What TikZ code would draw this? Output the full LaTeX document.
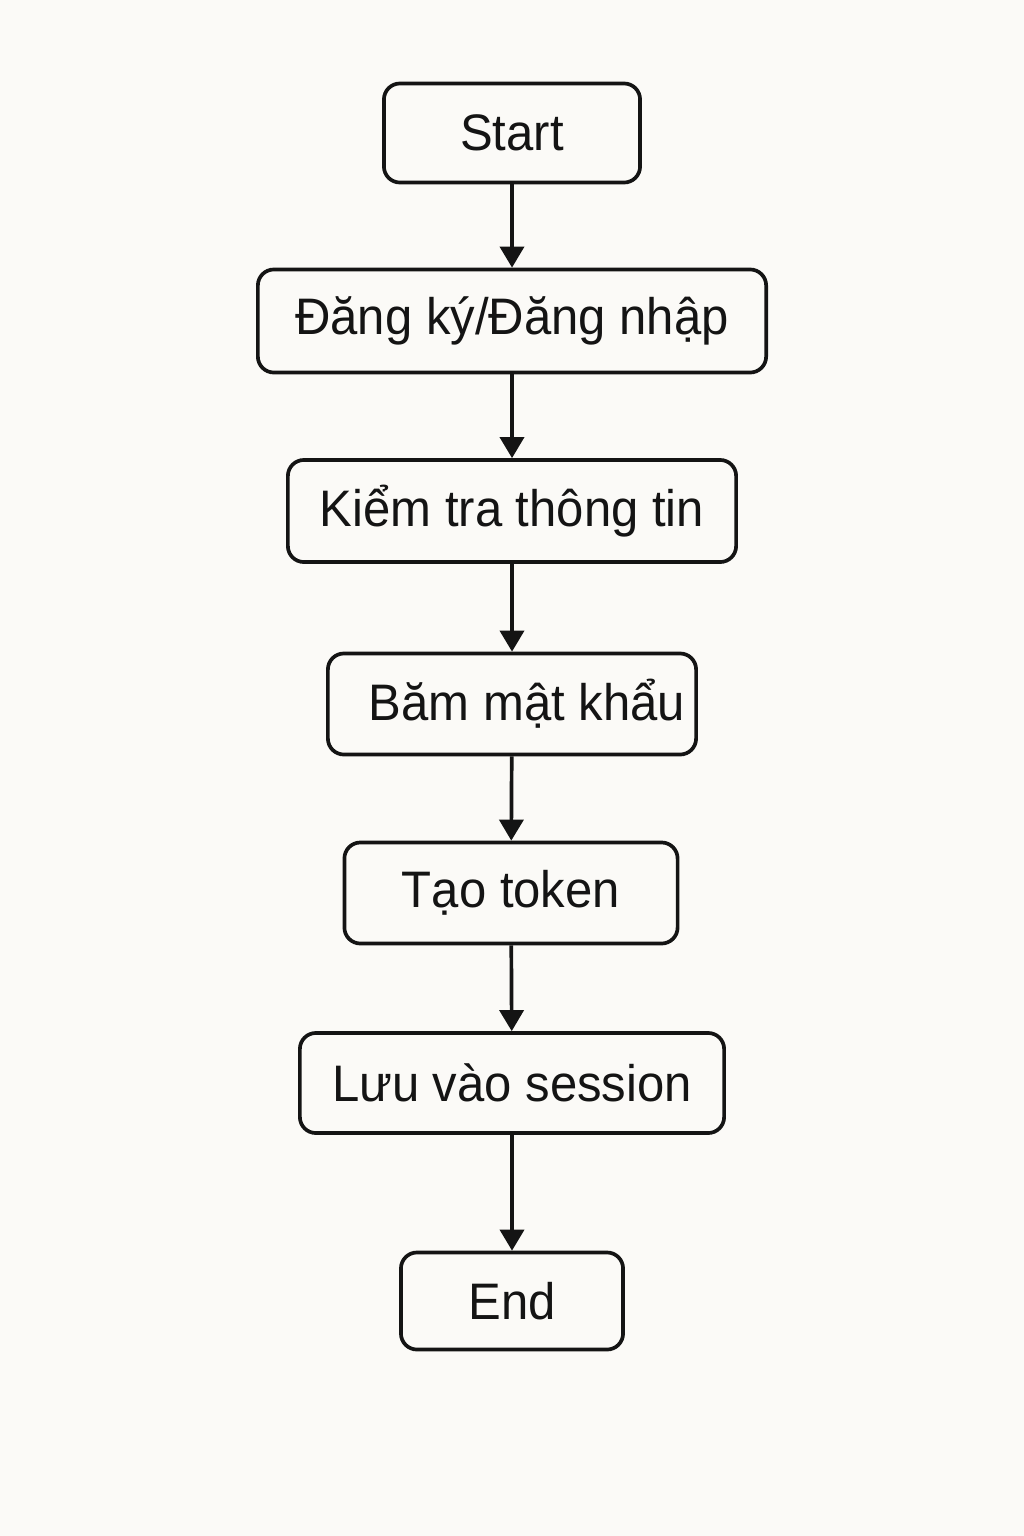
\documentclass[tikz,border=0pt]{standalone}
\usepackage{fontspec}
\setmainfont[FakeStretch=0.955]{Liberation Sans}
\usepackage{tikz}
\usetikzlibrary{arrows.meta}
\usepackage{xcolor}
\definecolor{PaperWhite}{HTML}{FBFAF7}
\definecolor{InkBlack}{HTML}{141414}

\begin{document}
\begin{tikzpicture}[x=0.01cm,y=-0.01cm,
    stepbox/.style={draw=InkBlack,line width=1.05pt,rounded corners=0.16cm,fill=PaperWhite,
      inner sep=0pt,font=\fontsize{14.6}{17}\selectfont,text=InkBlack},
    flow/.style={draw=InkBlack,line width=1.05pt,-{Triangle[width=0.24cm,length=0.21cm]}}]
    \fill[PaperWhite] (0,0) rectangle (1024,1536);
    \useasboundingbox (0,0) rectangle (1024,1536);

    \node[stepbox,minimum width=2.56cm,minimum height=0.99cm] (start) at (512,133) {Start};
    \node[stepbox,minimum width=5.08cm,minimum height=1.03cm] (login) at (512,321) {Đăng ký/Đăng nhập};
    \node[stepbox,minimum width=4.48cm,minimum height=1.02cm] (check) at (512,511) {Kiểm tra thông tin};
    \node[stepbox,minimum width=3.68cm,minimum height=1.01cm] (hash) at (512,704) {\hspace{0.3cm}Băm mật khẩu};
    \node[stepbox,minimum width=3.33cm,minimum height=1.01cm] (token) at (511,893) {Tạo token\hspace{0.08cm}};
    \node[stepbox,minimum width=4.24cm,minimum height=1.00cm] (session) at (512,1083) {Lưu vào session\hspace{0.1cm}};
    \node[stepbox,minimum width=2.22cm,minimum height=0.97cm] (end) at (512,1301) {End};

    \draw[flow] (start) -- (login);
    \draw[flow] (login) -- (check);
    \draw[flow] (check) -- (hash);
    \draw[flow] (hash) -- (token);
    \draw[flow] (token) -- (session);
    \draw[flow] (session) -- (end);
\end{tikzpicture}
\end{document}
